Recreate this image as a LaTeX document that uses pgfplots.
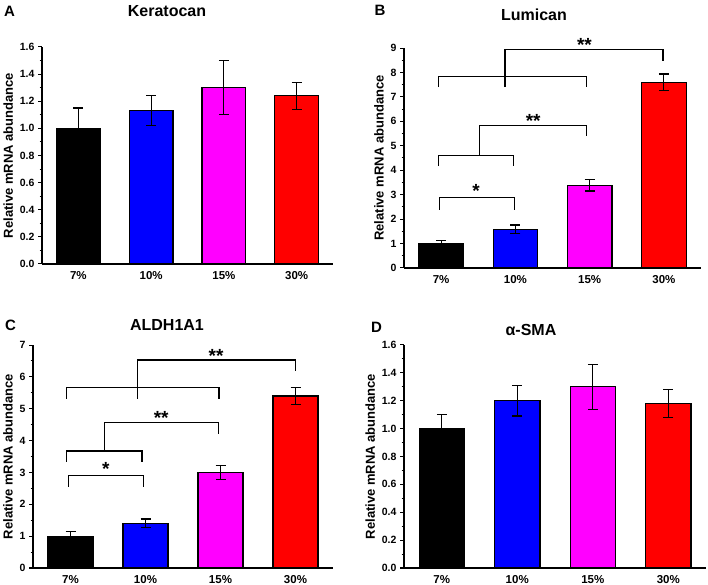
\documentclass[border=0pt]{standalone}
\usepackage{fontspec}
\setmainfont{Liberation Sans}
\usepackage{pgfplots}
\pgfplotsset{compat=1.18}

\definecolor{cblue}{RGB}{0,0,255}
\definecolor{cmag}{RGB}{255,0,255}
\definecolor{cred}{RGB}{255,0,0}

\pgfplotsset{
  panel/.style={
    scale only axis, anchor=south west, clip=false,
    axis x line*=bottom, axis y line*=left,
    xmin=-0.5, xmax=3.5, ymin=0,
    xtick={0,1,2,3}, xticklabels={7\%,10\%,15\%,30\%},
    xtick style={draw=none},
    x tick label style={font=\fontsize{11.5}{11.5}\selectfont\bfseries},
    y tick label style={font=\fontsize{10.5}{10.5}\selectfont\bfseries},
    tick align=outside, minor y tick num=1,
    major tick length=4pt, minor tick length=2.5pt,
    every tick/.style={black, line width=1pt},
    axis line style={line width=1.4pt},
    ylabel={Relative mRNA abundance},
    ylabel style={font=\fontsize{13}{13}\selectfont\bfseries},
    /pgf/number format/assume math mode=true,
  },
  bar/.style={ybar, bar width=0.6, bar shift=0pt, draw=black, line width=1.2pt,
    error bars/y dir=both, error bars/y explicit,
    error bars/error bar style={line width=1.2pt, black},
    error bars/error mark options={rotate=90, line width=1.2pt, mark size=5pt, black}},
  bk/.style={black, line width=1.3pt, forget plot},
  dec/.style={yticklabel style={/pgf/number format/.cd, fixed, fixed zerofill, precision=1}},
}
\newcommand{\sig}[3]{\node[anchor=base, font=\fontsize{19}{19}\selectfont\bfseries] at (axis cs:#1,#2) {#3};}

\begin{document}
\begin{tikzpicture}
\path[use as bounding box] (0pt,0pt) rectangle (708pt,585pt);

% A
\begin{axis}[panel, dec, at={(42pt,321pt)}, width=291pt, height=217pt,
  ymax=1.6, ytick={0,0.2,0.4,0.6,0.8,1.0,1.2,1.4,1.6}]
\addplot[bar, fill=black] coordinates {(0,1.00) +- (0,0.15)};
\addplot[bar, fill=cblue] coordinates {(1,1.13) +- (0,0.11)};
\addplot[bar, fill=cmag] coordinates {(2,1.30) +- (0,0.20)};
\addplot[bar, fill=cred] coordinates {(3,1.24) +- (0,0.10)};
\end{axis}

% B
\begin{axis}[panel, at={(404pt,317pt)}, width=297pt, height=220pt,
  ymax=9, ytick={0,1,...,9}]
\addplot[bar, fill=black] coordinates {(0,1.00) +- (0,0.12)};
\addplot[bar, fill=cblue] coordinates {(1,1.58) +- (0,0.18)};
\addplot[bar, fill=cmag] coordinates {(2,3.38) +- (0,0.23)};
\addplot[bar, fill=cred] coordinates {(3,7.60) +- (0,0.34)};
\addplot[bk] coordinates {(-0.02,2.39) (-0.02,2.87) (0.99,2.87) (0.99,2.39)};
\addplot[bk] coordinates {(-0.04,4.17) (-0.04,4.61) (0.97,4.61) (0.97,4.17)};
\addplot[bk] coordinates {(0.52,4.61) (0.52,5.83) (1.96,5.83) (1.96,5.40)};
\addplot[bk] coordinates {(-0.04,7.40) (-0.04,7.82) (1.96,7.82) (1.96,7.40)};
\addplot[bk] coordinates {(0.86,7.40) (0.86,8.93) (2.99,8.93) (2.99,8.48)};
\sig{0.47}{2.9}{*}
\sig{1.24}{5.75}{**}
\sig{1.93}{8.85}{**}
\end{axis}

% C
\begin{axis}[panel, at={(33pt,17pt)}, width=300pt, height=223pt,
  ymax=7, ytick={0,1,...,7}]
\addplot[bar, fill=black] coordinates {(0,1.00) +- (0,0.15)};
\addplot[bar, fill=cblue] coordinates {(1,1.40) +- (0,0.14)};
\addplot[bar, fill=cmag] coordinates {(2,3.00) +- (0,0.21)};
\addplot[bar, fill=cred] coordinates {(3,5.40) +- (0,0.27)};
\addplot[bk] coordinates {(-0.03,2.55) (-0.03,2.91) (0.97,2.91) (0.97,2.55)};
\addplot[bk] coordinates {(-0.05,3.33) (-0.05,3.67) (0.955,3.67) (0.955,3.33)};
\addplot[bk] coordinates {(0.45,3.67) (0.45,4.57) (1.97,4.57) (1.97,4.22)};
\addplot[bk] coordinates {(-0.05,5.32) (-0.05,5.67) (1.98,5.67) (1.98,5.32)};
\addplot[bk] coordinates {(0.89,5.32) (0.89,6.53) (3.0,6.53) (3.0,6.19)};
\sig{0.47}{2.9}{*}
\sig{1.21}{4.5}{**}
\sig{1.94}{6.45}{**}
\end{axis}

% D
\begin{axis}[panel, dec, at={(404pt,17pt)}, width=302pt, height=223pt,
  ymax=1.6, ytick={0,0.2,0.4,0.6,0.8,1.0,1.2,1.4,1.6}]
\addplot[bar, fill=black] coordinates {(0,1.00) +- (0,0.10)};
\addplot[bar, fill=cblue] coordinates {(1,1.20) +- (0,0.11)};
\addplot[bar, fill=cmag] coordinates {(2,1.30) +- (0,0.16)};
\addplot[bar, fill=cred] coordinates {(3,1.18) +- (0,0.10)};
\end{axis}

\begin{scope}[every node/.style={font=\fontsize{16}{16}\selectfont\bfseries}]
\node at (167pt,574pt) {Keratocan};
\node at (534pt,570pt) {Lumican};
\node at (167pt,260pt) {ALDH1A1};
\node at (531pt,255.5pt) {α-SMA};
\end{scope}
\begin{scope}[every node/.style={font=\fontsize{15}{15}\selectfont\bfseries}]
\node at (9.5pt,574pt) {A};
\node at (380pt,575pt) {B};
\node at (10.5pt,260pt) {C};
\node at (376.5pt,258pt) {D};
\end{scope}
\end{tikzpicture}
\end{document}
